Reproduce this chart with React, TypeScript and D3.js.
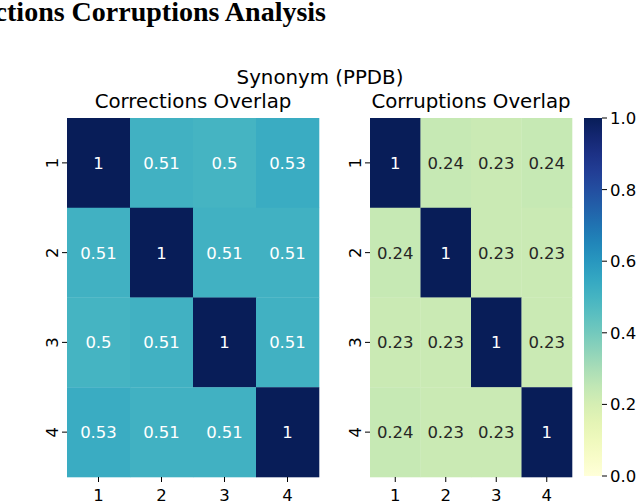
import React from 'react';
import * as d3 from 'd3';

const rowLabels = ['1', '2', '3', '4'];
const colLabels = ['1', '2', '3', '4'];

const correctionsOverlap = [
  [1, 0.51, 0.5, 0.53],
  [0.51, 1, 0.51, 0.51],
  [0.5, 0.51, 1, 0.51],
  [0.53, 0.51, 0.51, 1],
];

const corruptionsOverlap = [
  [1, 0.24, 0.23, 0.24],
  [0.24, 1, 0.23, 0.23],
  [0.23, 0.23, 1, 0.23],
  [0.24, 0.23, 0.23, 1],
];

const colorbarTicks = [0, 0.2, 0.4, 0.6, 0.8, 1.0];

const W = 640;
const H = 504;
const top = 118;
const bottom = 477;
const font = 'DejaVu Sans, sans-serif';
const fs = 16.5;

const color = d3.scaleSequential(d3.interpolateYlGnBu).domain([0, 1]);

// same rule seaborn uses to pick annotation colour
const textColor = (v: number) => {
  const c = d3.rgb(color(v));
  const lin = (u: number) => {
    const s = u / 255;
    return s <= 0.03928 ? s / 12.92 : Math.pow((s + 0.055) / 1.055, 2.4);
  };
  const lum = 0.2126 * lin(c.r) + 0.7152 * lin(c.g) + 0.0722 * lin(c.b);
  return lum > 0.408 ? '#262626' : '#ffffff';
};

interface HeatmapProps {
  data: number[][];
  x0: number;
  x1: number;
  title: string;
}

const Heatmap: React.FC<HeatmapProps> = ({ data, x0, x1, title }) => {
  const x = d3.scaleBand().domain(colLabels).range([x0, x1]);
  const y = d3.scaleBand().domain(rowLabels).range([top, bottom]);
  return (
    <g>
      <text x={(x0 + x1) / 2} y={108} textAnchor="middle" fontFamily={font} fontSize={19.8} fill="#000">
        {title}
      </text>
      {data.map((row, i) =>
        row.map((v, j) => (
          <g key={`${i}-${j}`}>
            <rect
              x={x(colLabels[j])!}
              y={y(rowLabels[i])!}
              width={x.bandwidth() + 0.3}
              height={y.bandwidth() + 0.3}
              fill={color(v)}
            />
            <text
              x={x(colLabels[j])! + x.bandwidth() / 2}
              y={y(rowLabels[i])! + y.bandwidth() / 2}
              dy="0.36em"
              textAnchor="middle"
              fontFamily={font}
              fontSize={fs}
              fill={textColor(v)}
            >
              {String(v)}
            </text>
          </g>
        ))
      )}
      {colLabels.map((c) => {
        const cx = x(c)! + x.bandwidth() / 2;
        return (
          <g key={`x${c}`}>
            <line x1={cx} x2={cx} y1={bottom} y2={bottom + 5} stroke="#000" strokeWidth={1} />
            <text x={cx} y={bottom + 24} textAnchor="middle" fontFamily={font} fontSize={fs} fill="#000">
              {c}
            </text>
          </g>
        );
      })}
      {rowLabels.map((r) => {
        const cy = y(r)! + y.bandwidth() / 2;
        return (
          <g key={`y${r}`}>
            <line x1={x0 - 5} x2={x0} y1={cy} y2={cy} stroke="#000" strokeWidth={1} />
            <text
              transform={`translate(${x0 - 9},${cy}) rotate(-90)`}
              textAnchor="middle"
              fontFamily={font}
              fontSize={fs}
              fill="#000"
            >
              {r}
            </text>
          </g>
        );
      })}
    </g>
  );
};

const Colorbar: React.FC = () => {
  const cx0 = 584;
  const cx1 = 602;
  const y = d3.scaleLinear().domain([0, 1]).range([bottom - 1, top]);
  const stops = d3.range(0, 1.0001, 0.05);
  return (
    <g>
      <defs>
        <linearGradient id="cbar" x1="0" y1="1" x2="0" y2="0">
          {stops.map((s) => (
            <stop key={s} offset={s} stopColor={color(s)} />
          ))}
        </linearGradient>
      </defs>
      <rect x={cx0} y={top} width={cx1 - cx0} height={bottom - 1 - top} fill="url(#cbar)" />
      {colorbarTicks.map((t) => (
        <g key={t}>
          <line x1={cx1} x2={cx1 + 5} y1={y(t)} y2={y(t)} stroke="#000" strokeWidth={1} />
          <text x={cx1 + 8} y={y(t)} dy="0.36em" fontFamily={font} fontSize={fs} fill="#000">
            {t.toFixed(1)}
          </text>
        </g>
      ))}
    </g>
  );
};

export default function App() {
  return (
    <svg
      width={W}
      height={H}
      style={{ position: 'absolute', left: 0, top: 0, background: '#fff' }}
    >
      <rect width={W} height={H} fill="#fff" />
      <text
        x={326}
        y={21}
        textAnchor="end"
        fontFamily="Liberation Serif, Times New Roman, serif"
        fontWeight="bold"
        fontSize={28}
        fill="#000"
      >
        Corrections Corruptions Analysis
      </text>
      <text x={320} y={84} textAnchor="middle" fontFamily={font} fontSize={19.8} fill="#000">
        Synonym (PPDB)
      </text>
      <Heatmap data={correctionsOverlap} x0={67} x1={319} title="Corrections Overlap" />
      <Heatmap data={corruptionsOverlap} x0={370} x1={572} title="Corruptions Overlap" />
      <Colorbar />
    </svg>
  );
}
